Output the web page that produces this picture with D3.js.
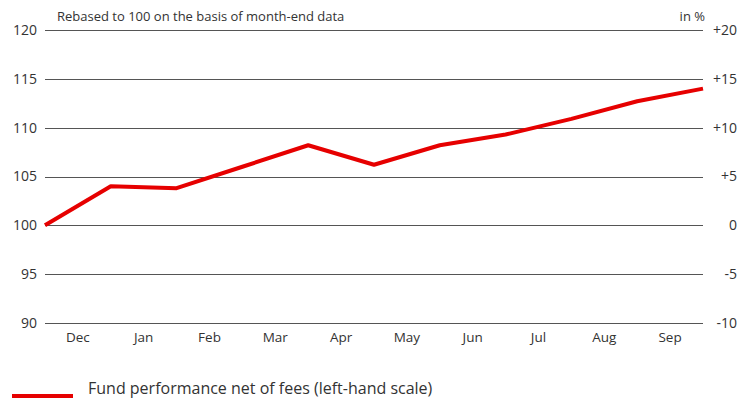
<!DOCTYPE html>
<html>
<head>
<meta charset="utf-8">
<script src="https://cdn.jsdelivr.net/npm/d3@7"></script>
<style>
  body { margin: 0; background: #fff; }
  text { font-family: "Open Sans", "Noto Sans", sans-serif; fill: #333; }
</style>
</head>
<body>
<script>
// data
var months = ["Dec", "Jan", "Feb", "Mar", "Apr", "May", "Jun", "Jul", "Aug", "Sep"];
// month-end values, first point = start (rebased 100)
var fund = [100, 104.0, 103.8, 106.0, 108.2, 106.2, 108.2, 109.3, 110.9, 112.7, 114.0];
var leftTicks = [90, 95, 100, 105, 110, 115, 120];
var rightTicks = [-10, -5, 0, 5, 10, 15, 20];

var width = 748, height = 400;
var margin = {left: 45, right: 45, top: 30, bottom: 77};

var svg = d3.select("body").append("svg")
  .attr("width", width)
  .attr("height", height);

var x = d3.scaleLinear()
  .domain([0, fund.length - 1])
  .range([margin.left, width - margin.right]);

var y = d3.scaleLinear()
  .domain([90, 120])
  .range([height - margin.bottom, margin.top]);

var yR = d3.scaleLinear()
  .domain([-10, 20])
  .range([height - margin.bottom, margin.top]);

// grid lines
svg.append("g")
  .selectAll("line")
  .data(leftTicks)
  .enter()
  .append("line")
  .attr("x1", margin.left)
  .attr("x2", width - margin.right)
  .attr("y1", function(d) { return Math.round(y(d)) + 0.5; })
  .attr("y2", function(d) { return Math.round(y(d)) + 0.5; })
  .attr("stroke", "#555")
  .attr("stroke-width", 1);

// left axis labels
var leftAxis = d3.axisLeft(y).tickValues(leftTicks).tickSize(0).tickPadding(0);
svg.append("g")
  .attr("transform", "translate(" + (margin.left - 8) + ",0)")
  .call(leftAxis)
  .call(function(g) { g.select(".domain").remove(); })
  .selectAll("text")
  .attr("font-size", "14px")
  .attr("fill", "#333")
  .style("font-family", "'Open Sans', sans-serif");

// right axis labels
var rightAxis = d3.axisRight(yR).tickValues(rightTicks).tickSize(0).tickPadding(0)
  .tickFormat(function(d) { return d > 0 ? "+" + d : String(d); });
svg.append("g")
  .attr("transform", "translate(" + (width - 11) + ",0)")
  .call(rightAxis)
  .call(function(g) { g.select(".domain").remove(); })
  .selectAll("text")
  .attr("text-anchor", "end")
  .attr("font-size", "14px")
  .attr("fill", "#333")
  .style("font-family", "'Open Sans', sans-serif");

// month labels, centred between month-end points
svg.append("g")
  .selectAll("text")
  .data(months)
  .enter()
  .append("text")
  .attr("x", function(d, i) { return x(i + 0.5); })
  .attr("y", height - margin.bottom + 19)
  .attr("text-anchor", "middle")
  .attr("font-size", "13.5px")
  .text(function(d) { return d; });

// fund line
var line = d3.line()
  .x(function(d, i) { return x(i); })
  .y(function(d) { return y(d); });

svg.append("path")
  .datum(fund)
  .attr("d", line)
  .attr("fill", "none")
  .attr("stroke", "#e60000")
  .attr("stroke-width", 4)
  .attr("stroke-linejoin", "round");

// header texts
svg.append("text")
  .attr("x", 57)
  .attr("y", 21)
  .attr("font-size", "13px")
  .text("Rebased to 100 on the basis of month-end data");

svg.append("text")
  .attr("x", width - margin.right + 2)
  .attr("y", 21)
  .attr("text-anchor", "end")
  .attr("font-size", "13px")
  .text("in %");

// legend
svg.append("line")
  .attr("x1", 12).attr("x2", 73)
  .attr("y1", 396).attr("y2", 396)
  .attr("stroke", "#e60000")
  .attr("stroke-width", 4);

svg.append("text")
  .attr("x", 88)
  .attr("y", 394)
  .attr("font-size", "16px")
  .text("Fund performance net of fees (left-hand scale)");
</script>
</body>
</html>
